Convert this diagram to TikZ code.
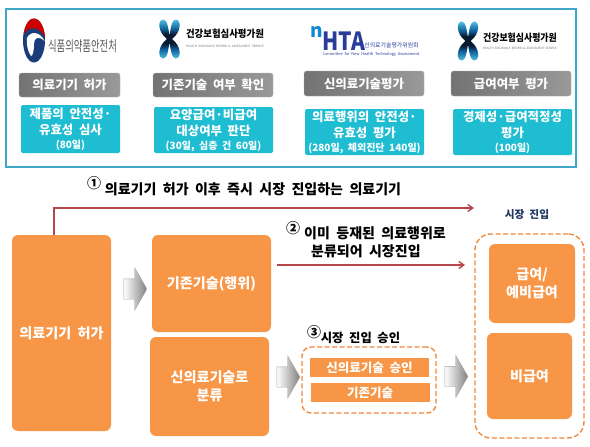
\documentclass[tikz,border=0pt]{standalone}
\usepackage{fontspec}
\usepackage{graphicx}
\setmainfont[WordSpace=2]{Noto Sans CJK KR}
\usepackage{tikz}
\usetikzlibrary{arrows.meta, shapes.arrows}
\definecolor{framecol}{HTML}{3FA8C8}
\definecolor{tealcol}{HTML}{1FBDD2}
\definecolor{orangecol}{HTML}{F79646}
\definecolor{dashcol}{HTML}{F08A3C}
\definecolor{redcol}{HTML}{B5474A}
\definecolor{navycol}{HTML}{1B3E7A}
\definecolor{htacol}{HTML}{2A3C9A}
\definecolor{entrycol}{HTML}{1F3864}
\definecolor{hiratip}{HTML}{4FBFE0}
\definecolor{hiramid}{HTML}{0F5F9A}
\definecolor{hiradark}{HTML}{0A1A30}
\pgfdeclareverticalshading{hirashade}{100bp}{color(0bp)=(hiratip); color(25bp)=(hiratip);
  color(37bp)=(hiramid); color(44bp)=(hiradark); color(56bp)=(hiradark);
  color(63bp)=(hiramid); color(75bp)=(hiratip); color(100bp)=(hiratip)}
\newcommand{\fpx}[2]{\fontsize{#1}{#2}\selectfont}
\newcommand{\dayslbl}[1]{{\fpx{10}{11}#1}}

\begin{document}
\begin{tikzpicture}[
  x=1pt, y=-1pt,
  grayhead/.style={
    draw=black!30, left color=black!55, right color=black!40, rounded corners=2.5pt,
    minimum width=120pt, minimum height=24pt, inner sep=0pt,
    text=white, font=\fpx{12.4}{14}\bfseries
  },
  tealbox/.style={
    fill=tealcol, rounded corners=1.5pt, minimum width=119pt, minimum height=46pt,
    inner sep=0pt, align=center, text=white, font=\fpx{12.4}{16}\bfseries
  },
  orangebox/.style={
    fill=orangecol, rounded corners=6pt, inner sep=0pt, align=center,
    text=white, font=\fpx{14.1}{18}\bfseries
  },
  orangebar/.style={
    fill=orangecol, minimum width=119pt, minimum height=19pt, inner sep=0pt,
    text=white, font=\fpx{12.5}{14}\bfseries
  },
  dashbox/.style={draw=dashcol, line width=1.4pt, dash pattern=on 5pt off 2.5pt, inner sep=0pt},
  redarrow/.style={-{Straight Barb[length=5pt,width=7pt]}, draw=redcol, line width=1.4pt},
  blockarrow/.style={
    shape=single arrow, draw=black!35, left color=white, right color=black!50,
    single arrow tip angle=120, single arrow head extend=11pt,
    inner xsep=0pt, inner ysep=10pt, minimum height=23pt
  },
  headline/.style={text=black, font=\fpx{14}{18}\bfseries, inner sep=0pt, align=left},
  numlbl/.style={text=black, font=\fpx{14}{15}\bfseries, inner sep=0pt},
  hirabig/.style={text=black, font=\fpx{10}{12}\bfseries, inner sep=0pt},
  hirasmall/.style={text=black!55, font=\fpx{3}{4}, inner sep=0pt},
  hira/.pic={
    \shade[shading=hirashade]
      (-6,-19.5) .. controls (-2,-19.5) and (-1,-9) .. (0,-3.5)
      .. controls (1,-9) and (2,-19.5) .. (6,-19.5)
      .. controls (12,-19.5) and (12,-7) .. (2.5,0)
      .. controls (12,7) and (12,19.5) .. (6,19.5)
      .. controls (2,19.5) and (1,9) .. (0,3.5)
      .. controls (-1,9) and (-2,19.5) .. (-6,19.5)
      .. controls (-12,19.5) and (-12,7) .. (-2.5,0)
      .. controls (-12,-7) and (-12,-19.5) .. (-6,-19.5) -- cycle;
  }
]
\path[use as bounding box, fill=white] (0,0) rectangle (590,447);

% ---- top panel
\node[draw=framecol, line width=1.6pt, minimum width=570pt, minimum height=158pt, inner sep=0pt] (panel) at (291,88) {};

% ---- logos
\fill[navycol] (34,40.5) ellipse (11 and 22);
\fill[red!80!black] (23.5,34) .. controls (26,22) and (30,18.5) .. (34,18.5)
  .. controls (41,18.5) and (45,30) .. (45,38) .. controls (41,28) and (30,24) .. (23.5,34) -- cycle;
\fill[white] (27,38) .. controls (30,31) and (40,31) .. (44.5,41)
  .. controls (38,35) and (34,38) .. (34,44) .. controls (34,50) and (33,56) .. (31,56)
  .. controls (28,52) and (26,44) .. (27,38) -- cycle;
\node[text=black!65, font=\fpx{13}{15}, inner sep=0pt] (mfds) at (82.5,46) {\scalebox{0.72}[1.1]{식품의약품안전처}};

\pic at (169.5,39) {hira};
\node[hirabig] (hira1) at (225,34) {\scalebox{0.94}[1]{건강보험심사평가원}};
\node[hirasmall] (hira1sub) at (225,46) {HEALTH INSURANCE REVIEW \& ASSESSMENT SERVICE};

\node[text=cyan!70!blue, font=\fpx{19}{19}\bfseries, inner sep=0pt] (ntxt) at (317,32) {n};
\node[text=htacol, font=\fpx{25}{25}\bfseries, inner sep=0pt] (hta) at (344,41) {\scalebox{0.84}[1]{HTA}};
\node[text=htacol, font=\fpx{5.9}{6}, inner sep=0pt] (htaname) at (391.5,45) {신의료기술평가위원회};
\node[text=htacol, font=\fpx{3.9}{5}, inner sep=0pt] (htasub) at (371,54.5) {Committee for New Health Technology Assessment};

\pic at (468,41) {hira};
\node[hirabig] (hira2) at (520,38) {\scalebox{0.89}[1]{건강보험심사평가원}};
\node[hirasmall] (hira2sub) at (520,48) {\scalebox{0.95}[1]{HEALTH INSURANCE REVIEW \& ASSESSMENT SERVICE}};

% ---- the four stages
\node[grayhead, minimum width=101pt] (st1) at (69.5,85) {의료기기 허가};
\node[grayhead] (st2) at (213,85) {기존기술 여부 확인};
\node[grayhead, minimum height=25pt] (st3) at (364,83.5) {신의료기술평가};
\node[grayhead, minimum height=25pt] (st4) at (511,83.5) {급여여부 평가};

\node[tealbox, minimum width=99pt, minimum height=48pt] (d1) at (70.5,129) {제품의 안전성·\\유효성 심사\\[-2pt]\dayslbl{(80일)}};
\node[tealbox] (d2) at (213.5,130) {요양급여·비급여\\대상여부 판단\\[-2pt]\dayslbl{(30일, 심층 건 60일)}};
\node[tealbox] (d3) at (364.5,132) {의료행위의 안전성·\\유효성 평가\\[-2pt]\dayslbl{(280일, 체외진단 140일)}};
\node[tealbox] (d4) at (512.5,132) {경제성·급여적정성\\평가\\[-2pt]\dayslbl{(100일)}};

% ---- market entry paths
\node[orangebox, minimum width=99pt, minimum height=196pt] (lic) at (61.5,333) {의료기기 허가};
\node[orangebox, minimum width=119pt, minimum height=97pt] (exist) at (211.5,283.5) {기존기술(행위)};
\node[orangebox, minimum width=119pt, minimum height=99pt] (newtech) at (209.5,386.5) {신의료기술로\\분류};

\node[dashbox, rounded corners=9pt, minimum width=134pt, minimum height=66pt] (appr) at (369,380) {};
\node[orangebar] (bar1) at (369.5,367.5) {신의료기술 승인};
\node[orangebar] (bar2) at (370,392.5) {기존기술};

\node[dashbox, rounded corners=16pt, minimum width=109pt, minimum height=204pt] (market) at (529.5,336) {};
\node[orangebox, minimum width=86pt, minimum height=79pt] (pay) at (532,283.5) {급여/\\예비급여};
\node[orangebox, minimum width=85pt, minimum height=86pt] (nonpay) at (529.5,376) {비급여};
\node[text=entrycol, font=\fpx{10.7}{12}\bfseries, inner sep=0pt] (entry) at (527,214) {시장 진입};

\node[blockarrow] (ba1) at (132.5,289) {};
\node[blockarrow] (ba2) at (285.5,377) {};
\node[blockarrow] (ba3) at (453.5,376.5) {};

% ---- arrows and their labels
\coordinate (end1) at (474,208);
\coordinate (start2) at (277,265);
\coordinate (end2) at (465,265);
\draw[redarrow] ([xshift=-7.5pt]lic.north) |- (end1);
\draw[redarrow] (start2) -- (end2);

\node[numlbl] (n1) at (94,183) {①};
\node[headline] (l1) at (253,189) {의료기기 허가 이후 즉시 시장 진입하는 의료기기};
\node[numlbl] (n2) at (293,228) {②};
\node[headline, anchor=north west] (l2) at (304,226) {이미 등재된 의료행위로\\\hspace{7pt}분류되어 시장진입};
\node[numlbl] (n3) at (314,332) {③};
\node[headline, font=\fpx{12.3}{14}\bfseries] (l3) at (360.5,338) {시장 진입 승인};

\end{tikzpicture}
\end{document}
